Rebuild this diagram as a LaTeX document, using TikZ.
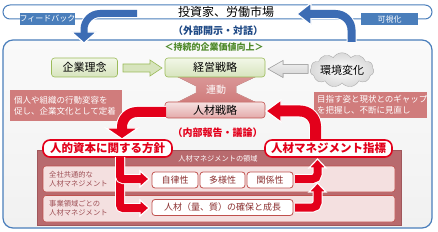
\documentclass[tikz,border=0pt]{standalone}
\usepackage{fontspec}
\setmainfont{Noto Sans CJK JP}
\usetikzlibrary{shapes.symbols}
\definecolor{bl}{HTML}{4A7EBB}
\definecolor{blarrow}{HTML}{3C6CB4}
\definecolor{bltxt}{HTML}{1F4A86}
\definecolor{rd}{HTML}{E3001B}
\definecolor{grtxt}{HTML}{4F8A2B}
\definecolor{grfill}{HTML}{D7E4BD}
\definecolor{grtop}{HTML}{F2F7E8}
\definecolor{grline}{HTML}{9BBB59}
\definecolor{pktop}{HTML}{F6E2E2}
\definecolor{pkbot}{HTML}{E3A9A9}
\definecolor{pkline}{HTML}{C0504D}
\definecolor{tbox}{HTML}{D07C7C}
\definecolor{region}{HTML}{B86A6E}
\definecolor{regline}{HTML}{A0575B}
\definecolor{rowfill}{HTML}{F4E0E0}
\definecolor{smtxt}{HTML}{8B2F2F}
\definecolor{rowtxt}{HTML}{9E4F55}
\definecolor{mainfill}{HTML}{F1F1F1}
\tikzset{
  stratbox/.style={draw=grline, line width=0.6pt, rounded corners=3pt, top color=grtop, bottom color=grfill, minimum width=66pt, minimum height=19pt, inner sep=0pt, font=\fontsize{11}{13}\selectfont},
  pinkbox/.style={draw=pkline, line width=0.6pt, rounded corners=3pt, top color=pktop, bottom color=pkbot, minimum width=100pt, minimum height=16pt, inner sep=0pt, font=\fontsize{11}{13}\selectfont},
  notebox/.style={fill=tbox, text=white, align=left, inner sep=0pt, font=\fontsize{8.5}{11}\selectfont},
  bluebox/.style={fill=bl, text=white, inner sep=0pt, minimum height=12pt, font=\fontsize{8}{9}\selectfont},
  keybox/.style={draw=rd, line width=1.6pt, fill=white, rounded corners=7pt, inner sep=0pt, minimum height=17pt, text=rd, font=\bfseries\fontsize{11.5}{13}\selectfont},
  rowbox/.style={draw=pkline, line width=0.6pt, fill=rowfill, rounded corners=3pt},
  smallbox/.style={draw=pkline, line width=0.8pt, fill=white, rounded corners=3pt, inner sep=0pt, minimum height=16pt, text=smtxt, font=\fontsize{9}{11}\selectfont},
  rowlabel/.style={text=rowtxt, align=left, anchor=west, inner sep=0pt, font=\fontsize{7.3}{8.8}\selectfont},
  whiteedge/.style={draw=white, line width=1.2pt},
}
\begin{document}
\begin{tikzpicture}[x=1pt,y=-1pt]
\useasboundingbox (0,0) rectangle (438,232);
\fill[white] (0,0) rectangle (438,232);

% main area
\draw[bl, line width=1.2pt, rounded corners=10pt, top color=white!96!gray, bottom color=mainfill] (3,40) rectangle (432,228);

% top banner
\node[draw=bl, line width=1pt, rounded corners=7pt, fill=white, minimum width=429pt, minimum height=14pt, inner sep=0pt] (banner) at (217.5,12) {};
\node[font=\fontsize{12}{14}\selectfont, inner sep=0pt] (market) at (226,12) {投資家、労働市場};
\node[font=\bfseries\fontsize{10}{12}\selectfont, text=bltxt, inner sep=0pt] (external) at (218,31) {（外部開示・対話）};
\node[bluebox, minimum width=55pt] (feedback) at (47.5,19) {フィードバック};
\node[bluebox, minimum width=57pt] (visual) at (389.5,19) {可視化};

% feedback arrow
\coordinate (fbstart) at (137,13.5);
\draw[white, line width=9pt] (fbstart) -- (100,13.5) .. controls (91.2,13.5) and (84,20.7) .. (84,29.5) -- (84,32);
\filldraw[fill=blarrow, whiteedge] (71.5,32) -- (96.5,32) -- (84,43) -- cycle;
\draw[blarrow, line width=7pt] (fbstart) -- (100,13.5) .. controls (91.2,13.5) and (84,20.7) .. (84,29.5) -- (84,33);

% visualisation arrow
\coordinate (vstart) at (351.5,42);
\draw[white, line width=10pt] (vstart) -- (351.5,30) .. controls (351.5,21.2) and (344.3,14) .. (335.5,14) -- (311,14);
\filldraw[fill=blarrow, whiteedge] (311,3) -- (311,25) -- (297,14) -- cycle;
\draw[blarrow, line width=8pt] (vstart) -- (351.5,30) .. controls (351.5,21.2) and (344.3,14) .. (335.5,14) -- (310,14);

% sustainable value
\node[font=\bfseries\fontsize{9}{11}\selectfont, text=grtxt, inner sep=0pt] (value) at (214,47) {＜持続的企業価値向上＞};

% link hourglass
\filldraw[draw=pkline!60, top color=tbox!80, bottom color=tbox, line width=0.5pt] (178,77) -- (255,77) -- (236,86) -- (236,93) -- (255,102) -- (178,102) -- (196,93) -- (196,86) -- cycle;
\node[text=white, font=\fontsize{10}{12}\selectfont, inner sep=0pt] (link) at (216,89.5) {連動};

% boxes
\node[stratbox] (rinen) at (84.5,67.5) {企業理念};
\node[stratbox, minimum width=100pt] (keiei) at (215,67.5) {経営戦略};
\node[pinkbox] (jinzai) at (215,110) {人材戦略};

% green and grey arrows
\filldraw[draw=grline, fill=grfill, line width=0.6pt] (123,64) -- (150,64) -- (150,60) -- (162,68) -- (150,76) -- (150,72) -- (123,72) -- cycle;
\filldraw[draw=gray!65, top color=gray!10, bottom color=gray!35, line width=0.6pt] (308,64.5) -- (283,64.5) -- (283,60.5) -- (268,69) -- (283,77.5) -- (283,73.5) -- (308,73.5) -- cycle;
\node[cloud, cloud puffs=11, cloud puff arc=115, aspect=2.4, draw=gray!65, inner color=white, outer color=gray!30, minimum width=63pt, minimum height=27pt, inner sep=0pt, font=\fontsize{11}{13}\selectfont] (env) at (342,70) {環境変化};

% note boxes
\node[notebox, minimum width=112pt, minimum height=31pt, text width=104pt] (noteL) at (66,105.5) {個人や組織の行動変容を\\促し、企業文化として定着};
\node[notebox, minimum width=113pt, minimum height=26pt, text width=107pt] (noteR) at (370.5,105) {目指す姿と現状とのギャップ\\を把握し、不断に見直し};

% internal report
\node[font=\bfseries\fontsize{10}{12}\selectfont, text=rd, inner sep=0pt] (internal) at (217.5,133) {（内部報告・議論）};

% region
\filldraw[fill=region, draw=regline, line width=0.6pt] (37,150) rectangle (401,225);
\node[text=white, font=\fontsize{7.2}{9}\selectfont, inner sep=0pt] (regtitle) at (218,158.5) {人材マネジメントの領域};
\draw[rowbox] (43,166) rectangle (395,192);
\draw[rowbox] (43,195.5) rectangle (395,222);
\node[rowlabel] (row1) at (49,179) {全社共通的な\\人材マネジメント};
\node[rowlabel] (row2) at (49,208.5) {事業領域ごとの\\人材マネジメント};
\node[smallbox, minimum width=46pt] (jiritsu) at (175,180) {自律性};
\node[smallbox, minimum width=45pt] (tayou) at (222.5,180) {多様性};
\node[smallbox, minimum width=46pt] (kankei) at (270,180) {関係性};
\node[smallbox, minimum width=141pt] (kakuho) at (222.5,207.5) {人材（量、質）の確保と成長};

% big red arrow left
\draw[white, line width=12pt] (166,112) -- (137,112) .. controls (128.7,112) and (122,118.7) .. (122,127) -- (122,128);
\filldraw[fill=rd, whiteedge] (106,128) -- (138,128) -- (122,139) -- cycle;
\draw[rd, line width=10pt] (166,112) -- (137,112) .. controls (128.7,112) and (122,118.7) .. (122,127) -- (122,129);
% big red arrow right
\draw[white, line width=13pt] (315.5,141) -- (315.5,126.5) .. controls (315.5,117.9) and (308.6,111) .. (300,111) -- (281,111);
\filldraw[fill=rd, whiteedge] (281,100) -- (281,122) -- (266,111) -- cycle;
\draw[rd, line width=11pt] (315.5,141) -- (315.5,126.5) .. controls (315.5,117.9) and (308.6,111) .. (300,111) -- (280,111);

% key boxes
\node[keybox, minimum width=129pt] (policy) at (107.5,148.5) {人的資本に関する方針};
\node[keybox, minimum width=127pt] (index) at (328.5,148.5) {人材マネジメント指標};

% L arrows from policy
\draw[white, line width=10pt, rounded corners=3pt] (120,157) -- (120,208) -- (141,208);
\filldraw[fill=rd, whiteedge] (140,200) -- (140,216) -- (149,208) -- cycle;
\draw[rd, line width=8pt, rounded corners=3pt] (120,157) -- (120,208) -- (141,208);
\draw[white, line width=10pt, rounded corners=3pt] (120,157) -- (120,179) -- (141,179);
\filldraw[fill=rd, whiteedge] (140,171) -- (140,187) -- (149,179) -- cycle;
\draw[rd, line width=8pt, rounded corners=3pt] (120,157) -- (120,179) -- (141,179);

% up arrows to index
\draw[white, line width=10pt, rounded corners=5pt] (295,207.5) -- (317.5,207.5) -- (317.5,191);
\filldraw[fill=rd, whiteedge] (309,192) -- (326,192) -- (317.5,183) -- cycle;
\draw[rd, line width=8pt, rounded corners=5pt] (295,207.5) -- (317.5,207.5) -- (317.5,191);
\draw[white, line width=10pt, rounded corners=5pt] (295,179) -- (317.5,179) -- (317.5,167);
\filldraw[fill=rd, whiteedge] (309,168) -- (326,168) -- (317.5,159) -- cycle;
\draw[rd, line width=8pt, rounded corners=5pt] (295,179) -- (317.5,179) -- (317.5,167);
\end{tikzpicture}
\end{document}
